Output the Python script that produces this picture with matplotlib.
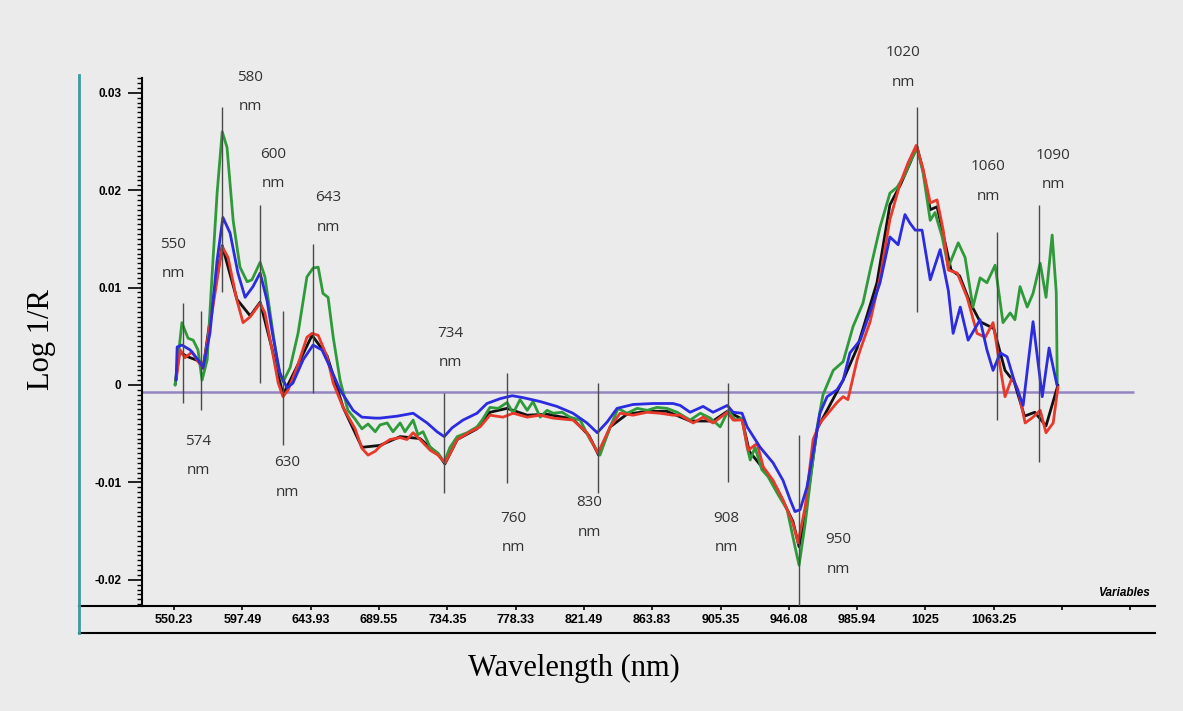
import matplotlib
matplotlib.use("Agg")
import matplotlib.pyplot as plt
from matplotlib.lines import Line2D
from matplotlib.ticker import MultipleLocator, FixedLocator, NullFormatter

# variable index axis, one tick every 20 variables
tick_pos = [0, 20, 40, 60, 80, 100, 120, 140, 160, 180, 200, 220, 240, 260, 280]
tick_labels = ["550.23", "597.49", "643.93", "689.55", "734.35", "778.33", "821.49",
               "863.83", "905.35", "946.08", "985.94", "1025", "1063.25", "", ""]

green_x = [0.3, 2.3, 4.1, 5.6, 7.0, 8.2, 9.7, 11.1, 12.6, 14.1, 15.5, 17.3, 19.3, 21.4,
           22.8, 25.2, 26.6, 28.7, 30.5, 31.9, 34.0, 36.3, 38.9, 40.7, 42.2, 43.6, 45.1,
           46.6, 48.6, 50.9, 53.0, 55.0, 56.8, 58.9, 60.3, 62.4, 64.1, 66.2, 67.6, 70.0,
           71.4, 72.9, 75.0, 77.3, 79.1, 80.8, 82.9, 85.8, 88.7, 90.2, 92.5, 94.9, 97.5,
           99.3, 101.3, 103.4, 105.1, 107.2, 109.2, 111.0, 113.6, 115.9, 118.9, 121.8,
           124.7, 127.7, 130.0, 132.6, 135.6, 138.5, 141.4, 144.3, 147.3, 151.1, 154.1,
           157.0, 159.9, 162.3, 164.3, 166.3, 167.8, 168.7, 170.1, 172.1, 173.9, 176.6,
           179.5, 181.8, 183.0, 184.8, 186.8, 188.3, 190.0, 193.0, 195.9, 198.8, 201.7,
           203.8, 206.7, 209.6, 211.7, 214.0, 215.5, 217.6, 219.3, 221.4, 222.8, 224.9,
           226.7, 229.6, 231.6, 233.9, 236.0, 238.0, 240.4, 242.7, 244.8, 246.2, 247.7,
           249.8, 251.5, 253.6, 255.3, 257.1, 258.3, 258.6]
green_y = [0.0, 0.0064, 0.0048, 0.0046, 0.0036, 0.0005, 0.0026, 0.0111, 0.0197, 0.0260,
           0.0244, 0.0169, 0.0121, 0.0106, 0.0108, 0.0126, 0.0111, 0.0060, 0.0018, 0.0003,
           0.0018, 0.0053, 0.0111, 0.0120, 0.0121, 0.0094, 0.0090, 0.0049, 0.0005,
           -0.0026, -0.0035, -0.0045, -0.0040, -0.0048, -0.0041, -0.0039, -0.0048,
           -0.0039, -0.0048, -0.0036, -0.0051, -0.0048, -0.0064, -0.0070, -0.0079,
           -0.0064, -0.0053, -0.0049, -0.0043, -0.0036, -0.0023, -0.0024, -0.0018,
           -0.0029, -0.0015, -0.0026, -0.0017, -0.0033, -0.0026, -0.0029, -0.0028,
           -0.0033, -0.0036, -0.0056, -0.0072, -0.0043, -0.0024, -0.0029, -0.0024,
           -0.0026, -0.0023, -0.0024, -0.0028, -0.0036, -0.0029, -0.0034, -0.0043,
           -0.0026, -0.0036, -0.0034, -0.0064, -0.0077, -0.0064, -0.0087, -0.0094,
           -0.0111, -0.0128, -0.0166, -0.0185, -0.0142, -0.0084, -0.0043, -0.0010,
           0.0015, 0.0024, 0.0060, 0.0084, 0.0118, 0.0162, 0.0197, 0.0203, 0.0216, 0.0229,
           0.0243, 0.0218, 0.0169, 0.0177, 0.0152, 0.0121, 0.0146, 0.0131, 0.0080, 0.0110,
           0.0105, 0.0123, 0.0064, 0.0074, 0.0067, 0.0101, 0.0080, 0.0094, 0.0125, 0.0090,
           0.0154, 0.0095, 0.0002]

red_x = [0.6, 1.8, 3.2, 5.3, 7.0, 8.5, 11.1, 14.1, 15.8, 18.4, 20.2, 22.3, 25.2, 26.6,
         28.7, 30.5, 31.9, 33.4, 36.0, 38.9, 40.4, 42.2, 44.8, 46.6, 49.5, 53.0, 55.0,
         56.8, 58.9, 60.3, 63.2, 66.2, 68.2, 70.0, 72.0, 75.0, 77.3, 79.4, 82.9, 86.7,
         89.6, 92.5, 96.3, 99.3, 103.4, 107.2, 111.0, 116.8, 120.9, 124.1, 127.7, 130.6,
         134.4, 138.5, 142.3, 146.1, 148.2, 152.0, 154.9, 157.8, 162.0, 163.7, 166.3,
         168.1, 170.7, 172.5, 175.4, 178.3, 181.2, 182.7, 184.8, 187.1, 189.1, 191.5,
         194.1, 195.9, 197.3, 200.0, 200.9, 203.8, 206.7, 209.6, 212.6, 214.9, 217.3,
         219.3, 221.4, 223.4, 225.2, 226.7, 229.3, 232.2, 235.1, 237.5, 239.8, 241.9,
         243.3, 245.4, 247.1, 249.2, 251.5, 253.6, 255.3, 257.4, 258.8]
red_y = [0.0005, 0.0036, 0.0028, 0.0034, 0.0024, 0.0018, 0.0074, 0.0142, 0.0131, 0.0087,
         0.0064, 0.0070, 0.0084, 0.0074, 0.0036, 0.0002, -0.0012, -0.0005, 0.0018, 0.0049,
         0.0053, 0.0051, 0.0029, 0.0002, -0.0023, -0.0045, -0.0065, -0.0072, -0.0068,
         -0.0063, -0.0056, -0.0054, -0.0056, -0.0049, -0.0056, -0.0067, -0.0072, -0.0080,
         -0.0056, -0.0048, -0.0043, -0.0031, -0.0033, -0.0029, -0.0033, -0.0031, -0.0034,
         -0.0036, -0.0049, -0.0070, -0.0043, -0.0029, -0.0031, -0.0028, -0.0029, -0.0031,
         -0.0031, -0.0039, -0.0033, -0.0039, -0.0028, -0.0036, -0.0036, -0.0067, -0.0060,
         -0.0084, -0.0098, -0.0118, -0.0142, -0.0162, -0.0125, -0.0056, -0.0039, -0.0029,
         -0.0018, -0.0012, -0.0015, 0.0026, 0.0036, 0.0065, 0.0110, 0.0170, 0.0207, 0.0228,
         0.0246, 0.0222, 0.0187, 0.0190, 0.0159, 0.0118, 0.0115, 0.0090, 0.0053, 0.0049,
         0.0064, 0.0018, -0.0012, 0.0008, -0.0005, -0.0039, -0.0033, -0.0026, -0.0049,
         -0.0039, -0.0002]

blue_x = [0.6, 0.9, 2.3, 4.7, 7.0, 8.5, 10.5, 12.6, 14.3, 16.4, 18.7, 20.8, 23.1, 25.2,
          27.2, 29.0, 31.0, 33.1, 34.8, 37.8, 40.7, 43.3, 45.7, 48.6, 52.4, 55.0, 58.9,
          60.3, 65.3, 70.0, 74.1, 77.0, 79.1, 81.4, 84.6, 88.7, 91.6, 95.5, 99.0, 102.2,
          107.2, 112.1, 116.8, 120.9, 123.9, 126.8, 129.7, 134.4, 140.3, 146.1, 148.2,
          151.1, 154.9, 157.8, 162.0, 163.7, 166.3, 167.8, 171.6, 175.4, 178.3, 180.4,
          181.8, 183.3, 185.3, 187.1, 189.1, 191.2, 194.1, 195.9, 197.9, 200.9, 203.8,
          206.7, 209.6, 212.0, 214.0, 215.5, 217.0, 219.0, 221.4, 224.3, 226.7, 228.1,
          230.2, 232.5, 236.0, 238.0, 239.8, 241.9, 243.9, 246.2, 248.6, 251.5, 254.2,
          256.2, 258.5]
blue_y = [0.0005, 0.0039, 0.0041, 0.0036, 0.0026, 0.0018, 0.0053, 0.0128, 0.0172, 0.0156,
          0.0115, 0.0090, 0.0101, 0.0115, 0.0087, 0.0049, 0.0012, -0.0003, 0.0002, 0.0026,
          0.0041, 0.0036, 0.0018, -0.0005, -0.0026, -0.0033, -0.0034, -0.0034, -0.0032,
          -0.0029, -0.0039, -0.0048, -0.0053, -0.0044, -0.0036, -0.0029, -0.0019, -0.0014,
          -0.0011, -0.0013, -0.0017, -0.0022, -0.0029, -0.0039, -0.0049, -0.0038, -0.0024,
          -0.0020, -0.0019, -0.0019, -0.0021, -0.0028, -0.0022, -0.0028, -0.0021, -0.0028,
          -0.0029, -0.0043, -0.0064, -0.0080, -0.0098, -0.0118, -0.0130, -0.0128, -0.0105,
          -0.0070, -0.0029, -0.0012, -0.0005, 0.0005, 0.0033, 0.0046, 0.0075, 0.0105,
          0.0152, 0.0144, 0.0175, 0.0166, 0.0159, 0.0159, 0.0108, 0.0139, 0.0097, 0.0053,
          0.0080, 0.0046, 0.0067, 0.0036, 0.0015, 0.0033, 0.0029, 0.0002, -0.0021, 0.0065,
          -0.0012, 0.0038, 0.0000]

# fourth spectrum, mostly hidden under the red and green ones
black_x = [0.3, 1.5, 4.0, 7.0, 8.5, 11.0, 14.1, 18.4, 22.3, 25.2, 28.7, 31.9, 36.0,
           40.4, 44.8, 49.5, 55.0, 60.3, 66.2, 72.0, 77.3, 79.3, 82.9, 88.7, 92.5, 97.5,
           103.4, 109.2, 116.8, 121.5, 124.3, 127.7, 132.6, 138.5, 144.3, 151.1, 157.8,
           162.0, 166.3, 168.4, 172.3, 176.6, 181.2, 183.0, 185.0, 188.3, 191.5, 195.9,
           200.0, 205.8, 209.6, 212.6, 215.5, 217.5, 219.3, 221.4, 223.4, 225.2, 227.5,
           230.0, 233.0, 236.0, 240.0, 243.3, 246.0, 249.0, 252.0, 255.3, 258.8]
black_y = [0.0, 0.0034, 0.0029, 0.0025, 0.0017, 0.0078, 0.0143, 0.0088, 0.0071, 0.0085,
           0.0037, -0.0010, 0.0019, 0.0051, 0.0030, -0.0023, -0.0064, -0.0062, -0.0053,
           -0.0055, -0.0071, -0.0081, -0.0056, -0.0045, -0.0028, -0.0024, -0.0031,
           -0.0030, -0.0035, -0.0052, -0.0072, -0.0043, -0.0030, -0.0027, -0.0027,
           -0.0037, -0.0037, -0.0027, -0.0035, -0.0068, -0.0085, -0.0107, -0.0140,
           -0.0166, -0.0128, -0.0045, -0.0024, 0.0005, 0.0038, 0.0105, 0.0185, 0.0205,
           0.0228, 0.0245, 0.0220, 0.0180, 0.0183, 0.0155, 0.0118, 0.0112, 0.0085, 0.0065,
           0.0058, 0.0015, 0.0003, -0.0032, -0.0028, -0.0042, 0.0]

# marked wavelengths: label, marker position, line top/bottom, label position
peak_names = ["550", "574", "580", "600", "630", "643", "734", "760", "830", "908",
              "950", "1020", "1060", "1090"]
peak_x = [2.6, 7.9, 14.1, 25.2, 31.9, 40.7, 79.1, 97.5, 124.1, 162.3, 183.0, 217.6,
          241.0, 253.3]
peak_top = [0.0084, 0.0076, 0.0285, 0.0185, 0.0076, 0.0145, -0.0008, 0.0012, 0.0002,
            0.0002, -0.0051, 0.0285, 0.0157, 0.0185]
peak_bottom = [-0.0018, -0.0026, 0.0095, 0.0002, -0.0062, -0.0008, -0.0111, -0.0101,
               -0.0111, -0.0100, -0.0227, 0.0075, -0.0036, -0.0079]
label_x = [-0.3, 7.0, 22.3, 29.0, 33.1, 45.1, 80.8, 99.3, 121.5, 161.6, 194.4, 213.5,
           238.3, 257.4]
label_y = [0.0144, -0.0058, 0.0316, 0.0237, -0.0080, 0.0192, 0.0053, -0.0137, -0.0121,
           -0.0137, -0.0159, 0.0341, 0.0224, 0.0236]

baseline = -0.0007

bg = "#ebebeb"
fig = plt.figure(figsize=(11.83, 7.11), dpi=100, facecolor=bg)
ax = fig.add_axes([0.1200, 0.1477, 0.8563, 0.7426], facecolor=bg)

line_kw = dict(lw=2.0, solid_joinstyle="round", solid_capstyle="round")
ax.plot(black_x, black_y, color="#111111", zorder=2.5, **line_kw)
ax.plot(green_x, green_y, color="#2e9a3a", zorder=3, **line_kw)
ax.plot(red_x, red_y, color="#e8392a", zorder=4, **line_kw)
ax.plot(blue_x, blue_y, color="#2b2be0", zorder=5, **line_kw)

ax.hlines(baseline, -9.4, 281, color="#9484c0", lw=1.8, zorder=2)

ax.vlines(peak_x, peak_bottom, peak_top, color="#4a4a4a", lw=1.0, zorder=6)
for name, x, y in zip(peak_names, label_x, label_y):
    ax.text(x, y, name, ha="center", va="center", fontsize=11, color="#333333",
            family=["Open Sans", "DejaVu Sans"], clip_on=False)
    ax.text(x, y - 0.0030, "nm", ha="center", va="center", fontsize=11,
            color="#333333", family=["Open Sans", "DejaVu Sans"], clip_on=False)

ax.set_xlim(-9.4, 287.2)
ax.set_ylim(-0.02269, 0.03152)

for side in ["top", "right"]:
    ax.spines[side].set_visible(False)
ax.spines["left"].set_linewidth(1.5)
ax.spines["bottom"].set_linewidth(1.5)

narrow = ["Liberation Sans Narrow", "Liberation Sans", "DejaVu Sans"]

ax.xaxis.set_major_locator(FixedLocator(tick_pos))
ax.set_xticklabels(tick_labels, fontsize=9, fontweight="bold", family=narrow)
ax.tick_params(axis="x", direction="out", length=3, width=1.2, pad=3)

ax.yaxis.set_minor_locator(MultipleLocator(0.0005))
ax.yaxis.set_minor_formatter(NullFormatter())
ytick_vals = [-0.02, -0.01, 0, 0.01, 0.02, 0.03]
ax.set_yticks(ytick_vals)
ax.set_yticklabels(["-0.02", "-0.01", "0", "0.01", "0.02", "0.03"], fontsize=8.5,
                   fontweight="bold", family=narrow)
ax.tick_params(axis="y", which="major", direction="out", length=10, width=1.2, pad=5)
ax.tick_params(axis="y", which="minor", direction="out", length=3.5, width=1.0)

ax.text(285.8, -0.0214, "Variables", ha="right", va="center", fontsize=8.5,
        fontweight="bold", fontstyle="italic", family=narrow)

# frame pieces outside the axes
fig.add_artist(Line2D([0.0668, 0.1200], [0.1477, 0.1477], color="black", lw=1.5))
fig.add_artist(Line2D([0.0668, 0.9763], [0.1097, 0.1097], color="black", lw=1.5))
fig.add_artist(Line2D([0.0668, 0.0668], [0.1097, 0.8945], color="#3a9c9c", lw=2.0))

fig.text(0.0355, 0.522, "Log 1/R", rotation=90, ha="center", va="center",
         fontsize=22, family=["Liberation Serif", "DejaVu Serif"])
fig.text(0.485, 0.0605, "Wavelength (nm)", ha="center", va="center",
         fontsize=22, family=["Liberation Serif", "DejaVu Serif"])

fig.savefig("out.png", dpi=100, facecolor=bg)
